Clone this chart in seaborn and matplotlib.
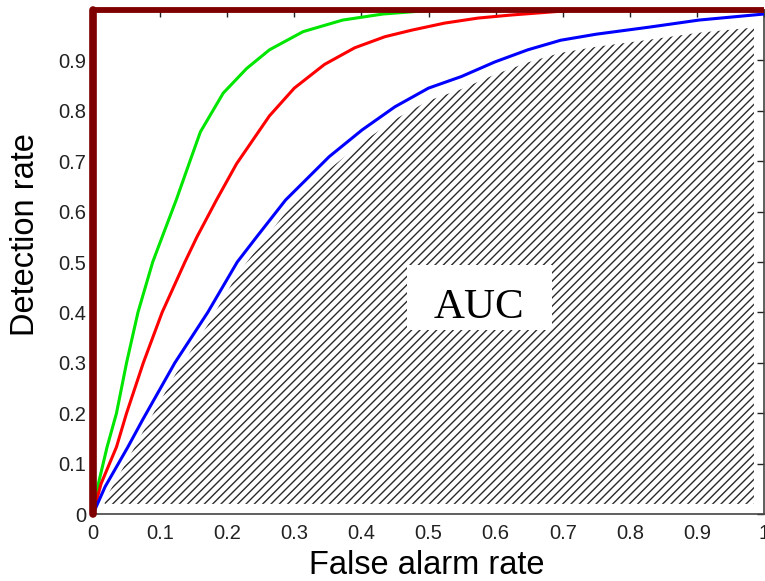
import numpy as np
import pandas as pd
import matplotlib
matplotlib.use("Agg")
import matplotlib.pyplot as plt
from matplotlib.patches import Rectangle
import seaborn as sns

# ---- data ----
fpr_green = [0, 0.008, 0.021, 0.035, 0.050, 0.067, 0.089, 0.106, 0.124, 0.145, 0.160,
             0.194, 0.229, 0.263, 0.313, 0.372, 0.432, 0.49, 0.55]
tpr_green = [0, 0.06, 0.133, 0.2, 0.3, 0.4, 0.5, 0.56, 0.623, 0.702, 0.758,
             0.835, 0.884, 0.921, 0.957, 0.980, 0.992, 0.998, 1.0]

fpr_red = [0, 0.012, 0.035, 0.05, 0.075, 0.103, 0.137, 0.155, 0.184, 0.214, 0.263,
           0.30, 0.345, 0.39, 0.435, 0.475, 0.524, 0.574, 0.623, 0.672, 0.72]
tpr_red = [0, 0.06, 0.133, 0.2, 0.3, 0.4, 0.5, 0.55, 0.623, 0.695, 0.79,
           0.845, 0.892, 0.925, 0.947, 0.960, 0.974, 0.984, 0.990, 0.995, 1.0]

fpr_blue = [0, 0.018, 0.052, 0.074, 0.122, 0.171, 0.215, 0.244, 0.287, 0.352,
            0.401, 0.450, 0.500, 0.549, 0.599, 0.648, 0.697, 0.75, 0.829, 0.903, 1.0]
tpr_blue = [0, 0.054, 0.133, 0.187, 0.3, 0.4, 0.5, 0.55, 0.623, 0.709,
            0.762, 0.808, 0.845, 0.868, 0.897, 0.921, 0.940, 0.952, 0.966, 0.980, 0.992]

perfect_x = [0, 0, 1]
perfect_y = [0, 1, 1]

tick_vals = [0, 0.1, 0.2, 0.3, 0.4, 0.5, 0.6, 0.7, 0.8, 0.9, 1.0]
x_tick_labels = ["0", "0.1", "0.2", "0.3", "0.4", "0.5", "0.6", "0.7", "0.8", "0.9", "1"]
y_tick_labels = ["0", "0.1", "0.2", "0.3", "0.4", "0.5", "0.6", "0.7", "0.8", "0.9", ""]

auc_label = "AUC"
x_label = "False alarm rate"
y_label = "Detection rate"

# ---- styling ----
sns.set_style("white")
plt.rcParams["font.family"] = ["Liberation Sans", "DejaVu Sans"]
plt.rcParams["hatch.linewidth"] = 1.0

df = pd.concat([
    pd.DataFrame({"fpr": fpr_green, "tpr": tpr_green, "model": "green"}),
    pd.DataFrame({"fpr": fpr_red, "tpr": tpr_red, "model": "red"}),
    pd.DataFrame({"fpr": fpr_blue, "tpr": tpr_blue, "model": "blue"}),
], ignore_index=True)

W, H = 765, 581
fig = plt.figure(figsize=(W / 100, H / 100), dpi=100)
ax = fig.add_axes([93 / W, (H - 514) / H, (764 - 93) / W, (514 - 10) / H])

# hatched area under the blue curve
xs = np.linspace(0.015, 0.985, 400)
upper = np.interp(xs, fpr_blue, tpr_blue) - 0.025
lower = np.full_like(xs, 0.02)
ax.fill_between(xs, lower, upper, where=upper > lower, facecolor="none",
                edgecolor="#2a2a2a", hatch="////", linewidth=0, zorder=1)

# AUC label box
ax.add_patch(Rectangle((0.468, 0.365), 0.216, 0.129, facecolor="white",
                       edgecolor="none", zorder=2))
ax.text(0.575, 0.389, auc_label, ha="center", va="baseline", fontsize=31,
        family=["Liberation Serif", "DejaVu Serif"], color="black", zorder=3)

sns.lineplot(data=df, x="fpr", y="tpr", hue="model",
             palette={"green": "#00e600", "red": "#ff0000", "blue": "#0000ff"},
             sort=False, estimator=None, linewidth=2.2, legend=False, ax=ax, zorder=3)

# perfect classifier
ax.plot(perfect_x[:2], perfect_y[:2], color="#7f0000", linewidth=5.5,
        solid_capstyle="round", clip_on=False, zorder=5)
ax.plot(perfect_x[1:], perfect_y[1:], color="#7f0000", linewidth=4.2,
        solid_capstyle="butt", clip_on=False, zorder=5)

ax.set_xlim(0, 1)
ax.set_ylim(0, 1)
ax.set_xticks(tick_vals, x_tick_labels)
ax.set_yticks(tick_vals, y_tick_labels)
ax.tick_params(direction="in", length=5, width=1, top=True, right=True,
               labelsize=14.5, colors="#222222")
ax.tick_params(axis="x", pad=7)
ax.tick_params(axis="y", pad=5)
for s in ax.spines.values():
    s.set_color("#444444")
    s.set_linewidth(1.2)

ax.set_xlabel(x_label, fontsize=23.5, color="black")
ax.set_ylabel(y_label, fontsize=23.5, color="black")
ax.xaxis.set_label_coords(0.498, -0.072)
ax.yaxis.set_label_coords(-0.101, 0.554)
ax.yaxis.label.set_verticalalignment("center")
ax.xaxis.label.set_verticalalignment("top")

fig.savefig("out.png", dpi=100)
